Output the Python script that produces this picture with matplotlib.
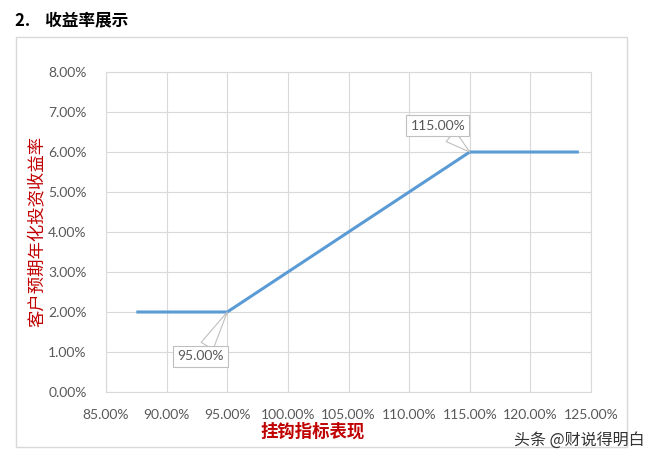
import matplotlib.pyplot as plt
from matplotlib.patches import Rectangle
from matplotlib.ticker import FuncFormatter, MultipleLocator

plt.rcParams['font.family'] = ['Lato', 'Noto Sans CJK SC', 'DejaVu Sans']

# 挂钩指标表现 (%) vs 客户预期年化投资收益率 (%)
index_perf = [87.5, 95.0, 115.0, 124.0]
yield_rate = [2.0, 2.0, 6.0, 6.0]
labelled_x = [95.0, 115.0]
labelled_y = [2.0, 6.0]
label_offsets = [(-19, -32), (-23, 19)]

fig = plt.figure(figsize=(6.5, 4.63), dpi=100)

# chart frame
fig.patches.append(Rectangle((16 / 650, 1 - 447 / 463), 611 / 650, 410 / 463,
                             transform=fig.transFigure, fill=False,
                             edgecolor='#D9D9D9', linewidth=1.0))

ax = fig.add_axes([106 / 650, 1 - 392 / 463, 485 / 650, 320 / 463])
ax.plot(index_perf, yield_rate, color='#5B9BD5', linewidth=2.2, solid_capstyle='butt')

ax.set_xlim(85, 125)
ax.set_ylim(0, 8)
ax.xaxis.set_major_locator(MultipleLocator(5))
ax.yaxis.set_major_locator(MultipleLocator(1))
ax.xaxis.set_major_formatter(FuncFormatter(lambda v, p: f'{v:.2f}%'))
ax.yaxis.set_major_formatter(FuncFormatter(lambda v, p: f'{v:.2f}%'))
ax.tick_params(length=0, labelsize=10, labelcolor='#595959')
ax.tick_params(axis='x', pad=12)
ax.tick_params(axis='y', pad=14)
ax.grid(True, color='#D9D9D9', linewidth=0.8)
ax.set_axisbelow(True)
for s in ax.spines.values():
    s.set_color('#D9D9D9')
    s.set_linewidth(0.8)

for x, y, off in zip(labelled_x, labelled_y, label_offsets):
    ax.annotate(f'{x:.2f}%', xy=(x, y), xytext=off, textcoords='offset points',
                ha='center', va='center', fontsize=10, color='#595959',
                bbox=dict(boxstyle='square,pad=0.3', fc='white', ec='#BFBFBF', lw=0.8),
                arrowprops=dict(arrowstyle='wedge,tail_width=1.0,shrink_factor=0.5',
                                fc='white', ec='#BFBFBF', lw=0.8, shrinkA=0, shrinkB=0))

fig.text(15 / 650, 1 - 20 / 463, '2.    收益率展示', fontsize=12, fontweight='bold',
         family=['Noto Sans CJK SC'], va='center', ha='left', color='black')
fig.text(313 / 650, 1 - 432 / 463, '挂钩指标表现', fontsize=12.5, fontweight='bold',
         family=['Noto Sans CJK SC'], color='#C00000', ha='center', va='center')
fig.text(37 / 650, 1 - 231 / 463, '客户预期年化投资收益率', fontsize=12.5, fontweight='medium',
         family=['Noto Sans CJK SC'], color='#C00000', ha='center', va='center',
         rotation=90)
fig.text(645 / 650, 1 - 440 / 463, '头条 @财说得明白', fontsize=11.5,
         family=['Noto Sans CJK SC'], color='#333333', ha='right', va='center')

fig.savefig('out.png', dpi=100, facecolor='white')
